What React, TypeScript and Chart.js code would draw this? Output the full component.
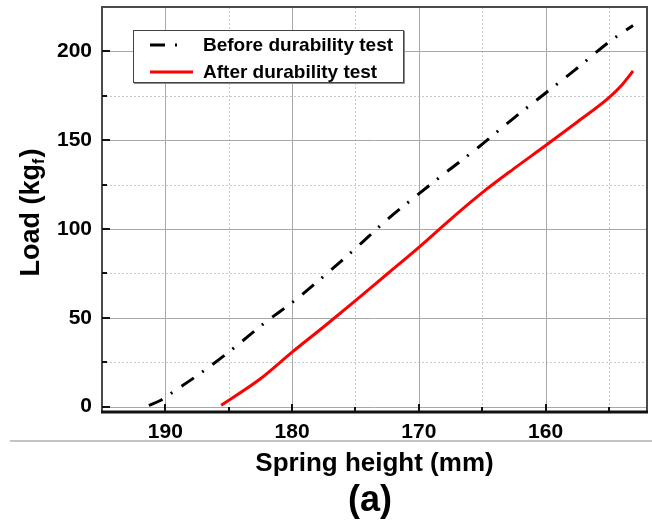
import { useEffect, useRef } from "react";
import { Chart, registerables } from "chart.js";

Chart.register(...registerables);

const FONT = "'Liberation Sans', Arial, sans-serif";

// Spring height (mm) vs load (kgf)
const beforeHeight = [191.3, 190.4, 189.6, 187.1, 184.6, 182.2, 179.7, 177.3, 174.9, 172.6, 170.2, 167.7, 165.2, 162.8, 160.3, 157.8, 154.9, 153.1];
const beforeLoad = [0.7, 3.5, 7.3, 19.5, 33.0, 47.0, 60.3, 74.7, 89.7, 104.7, 118.7, 132.8, 146.6, 160.8, 174.9, 188.9, 205.8, 214.6];

const afterHeight = [185.6, 182.5, 180.0, 177.5, 175.0, 172.5, 170.0, 167.5, 165.0, 162.5, 160.0, 157.5, 155.0, 154.0, 153.1];
const afterLoad = [0.8, 15.7, 30.7, 45.0, 59.7, 74.7, 89.7, 105.5, 120.5, 134.0, 147.0, 160.3, 174.0, 181.0, 189.0];

const seriesLabels = ["Before durability test", "After durability test"];

const xTicks = [190, 180, 170, 160];
const xMinorTicks = [185, 175, 165, 155];
const yTicks = [0, 50, 100, 150, 200];
const yMinorTicks = [25, 75, 125, 175];

const xTitle = "Spring height (mm)";
const yTitleMain = "Load (kg";
const yTitleSub = "f";
const yTitleEnd = ")";
const panelLabel = "(a)";

const toPoints = (xs: number[], ys: number[]) => xs.map((v, i) => ({ x: v, y: ys[i] }));

const decorPlugin = {
  id: "decor",
  beforeDatasetsDraw(chart: any) {
    const { ctx, chartArea: a, scales } = chart;
    const x = scales.x;
    const y = scales.y;
    ctx.save();
    ctx.lineWidth = 1;
    // minor grid, dotted
    ctx.strokeStyle = "#c8c8c8";
    ctx.setLineDash([2, 2]);
    xMinorTicks.forEach((v) => {
      const p = Math.round(x.getPixelForValue(v)) + 0.5;
      ctx.beginPath();
      ctx.moveTo(p, a.top);
      ctx.lineTo(p, a.bottom);
      ctx.stroke();
    });
    yMinorTicks.forEach((v) => {
      const p = Math.round(y.getPixelForValue(v)) + 0.5;
      ctx.beginPath();
      ctx.moveTo(a.left, p);
      ctx.lineTo(a.right, p);
      ctx.stroke();
    });
    // major grid, solid
    ctx.setLineDash([]);
    ctx.strokeStyle = "#a8a8a8";
    xTicks.forEach((v) => {
      const p = Math.round(x.getPixelForValue(v)) + 0.5;
      ctx.beginPath();
      ctx.moveTo(p, a.top);
      ctx.lineTo(p, a.bottom);
      ctx.stroke();
    });
    yTicks.forEach((v) => {
      const p = Math.round(y.getPixelForValue(v)) + 0.5;
      ctx.beginPath();
      ctx.moveTo(a.left, p);
      ctx.lineTo(a.right, p);
      ctx.stroke();
    });
    ctx.restore();
  },
  afterDatasetsDraw(chart: any) {
    const { ctx, chartArea: a, scales } = chart;
    const x = scales.x;
    const y = scales.y;
    ctx.save();

    // frame
    ctx.strokeStyle = "#4a4a4a";
    ctx.lineWidth = 2;
    ctx.beginPath();
    ctx.moveTo(a.left, a.bottom);
    ctx.lineTo(a.left, a.top);
    ctx.lineTo(a.right, a.top);
    ctx.lineTo(a.right, a.bottom);
    ctx.stroke();
    ctx.strokeStyle = "#111";
    ctx.lineWidth = 3;
    ctx.beginPath();
    ctx.moveTo(a.left - 1, a.bottom);
    ctx.lineTo(a.right + 1, a.bottom);
    ctx.stroke();

    // inward tick marks
    ctx.strokeStyle = "#111";
    ctx.lineWidth = 2;
    const tick = (x0: number, y0: number, x1: number, y1: number) => {
      ctx.beginPath();
      ctx.moveTo(x0, y0);
      ctx.lineTo(x1, y1);
      ctx.stroke();
    };
    xTicks.forEach((v) => {
      const p = Math.round(x.getPixelForValue(v));
      tick(p, a.bottom, p, a.bottom - 8);
    });
    xMinorTicks.forEach((v) => {
      const p = Math.round(x.getPixelForValue(v));
      tick(p, a.bottom, p, a.bottom - 5);
    });
    yTicks.forEach((v) => {
      const p = Math.round(y.getPixelForValue(v));
      tick(a.left, p, a.left + 8, p);
    });
    yMinorTicks.forEach((v) => {
      const p = Math.round(y.getPixelForValue(v));
      tick(a.left, p, a.left + 5, p);
    });

    // legend box
    const bx = 133, by = 30, bw = 270, bh = 52;
    ctx.fillStyle = "#fff";
    ctx.fillRect(bx, by, bw, bh);
    ctx.strokeStyle = "#8a8a8a";
    ctx.lineWidth = 1;
    ctx.beginPath();
    ctx.moveTo(bx + bw + 1.5, by + 1);
    ctx.lineTo(bx + bw + 1.5, by + bh + 1.5);
    ctx.lineTo(bx + 1, by + bh + 1.5);
    ctx.stroke();
    ctx.strokeStyle = "#444";
    ctx.strokeRect(bx + 0.5, by + 0.5, bw, bh);

    chart.data.datasets.forEach((ds: any, i: number) => {
      const ly = 45 + i * 27;
      ctx.save();
      ctx.strokeStyle = ds.borderColor;
      ctx.lineWidth = ds.borderWidth;
      ctx.setLineDash(ds.borderDash || []);
      ctx.beginPath();
      ctx.moveTo(150, ly);
      ctx.lineTo(i === 0 ? 178 : 193, ly);
      ctx.stroke();
      ctx.restore();
      ctx.fillStyle = "#000";
      ctx.font = `bold 19px ${FONT}`;
      ctx.textAlign = "left";
      ctx.textBaseline = "middle";
      ctx.fillText(ds.label, 203, ly + 1);
    });

    // separator under the tick labels
    ctx.strokeStyle = "#c4c4c4";
    ctx.lineWidth = 2;
    ctx.beginPath();
    ctx.moveTo(10, 441);
    ctx.lineTo(652, 441);
    ctx.stroke();

    // axis titles
    ctx.fillStyle = "#000";
    ctx.textBaseline = "middle";
    ctx.textAlign = "center";
    ctx.font = `bold 26px ${FONT}`;
    ctx.fillText(xTitle, (a.left + a.right) / 2, 464);
    ctx.font = `bold 36px ${FONT}`;
    ctx.fillText(panelLabel, 370, 501);

    // rotated y title with subscript
    ctx.save();
    ctx.translate(32, 213);
    ctx.rotate(-Math.PI / 2);
    ctx.textAlign = "left";
    const mainFont = `bold 27px ${FONT}`;
    const subFont = `bold 16px ${FONT}`;
    ctx.font = mainFont;
    const w1 = ctx.measureText(yTitleMain).width;
    const w3 = ctx.measureText(yTitleEnd).width;
    ctx.font = subFont;
    const w2 = ctx.measureText(yTitleSub).width;
    const x0 = -(w1 + w2 + w3) / 2;
    ctx.font = mainFont;
    ctx.fillText(yTitleMain, x0, 0);
    ctx.font = subFont;
    ctx.fillText(yTitleSub, x0 + w1, 8);
    ctx.font = mainFont;
    ctx.fillText(yTitleEnd, x0 + w1 + w2 + 1, 0);
    ctx.restore();

    ctx.restore();
  },
};

export default function App() {
  const canvasRef = useRef<HTMLCanvasElement | null>(null);

  useEffect(() => {
    const canvas = canvasRef.current;
    if (!canvas) return;
    const tickFont = { family: FONT, size: 21, weight: "bold" as const };

    const chart = new Chart(canvas, {
      type: "scatter",
      data: {
        datasets: [
          {
            label: seriesLabels[0],
            data: toPoints(beforeHeight, beforeLoad),
            showLine: true,
            borderColor: "#000",
            borderWidth: 3,
            borderDash: [15, 10, 2, 11],
            pointRadius: 0,
            cubicInterpolationMode: "monotone",
          },
          {
            label: seriesLabels[1],
            data: toPoints(afterHeight, afterLoad),
            showLine: true,
            borderColor: "#ff0000",
            borderWidth: 3,
            pointRadius: 0,
            cubicInterpolationMode: "monotone",
          },
        ],
      },
      options: {
        responsive: false,
        animation: false,
        devicePixelRatio: 1,
        layout: { padding: { top: 7, right: 5, left: 0, bottom: 0 } },
        plugins: {
          legend: { display: false },
          tooltip: { enabled: false },
          title: { display: false },
        },
        scales: {
          x: {
            type: "linear",
            reverse: true,
            min: 152,
            max: 195,
            afterBuildTicks: (scale: any) => {
              scale.ticks = xTicks.map((v) => ({ value: v }));
            },
            afterFit: (scale: any) => {
              scale.height = 118;
              scale.paddingLeft = 0;
              scale.paddingRight = 0;
            },
            grid: { display: false, drawTicks: false },
            border: { display: false },
            ticks: { font: tickFont, color: "#000", padding: 8, maxRotation: 0 },
          },
          y: {
            type: "linear",
            min: -3,
            max: 225,
            afterBuildTicks: (scale: any) => {
              scale.ticks = yTicks.map((v) => ({ value: v }));
            },
            afterFit: (scale: any) => {
              scale.width = 102;
              scale.paddingTop = 0;
              scale.paddingBottom = 0;
            },
            grid: { display: false, drawTicks: false },
            border: { display: false },
            ticks: { font: tickFont, color: "#000", padding: 10 },
          },
        },
      },
      plugins: [decorPlugin],
    });

    return () => chart.destroy();
  }, []);

  return (
    <div style={{ position: "absolute", left: 0, top: 0, width: 652, height: 530, background: "#fff" }}>
      <canvas ref={canvasRef} width={652} height={530} style={{ display: "block" }} />
    </div>
  );
}
